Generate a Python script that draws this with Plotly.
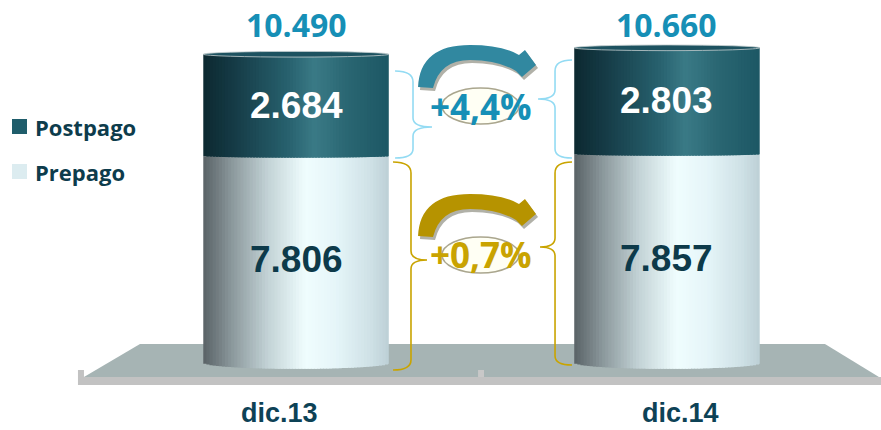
import numpy as np
import plotly.graph_objects as go

W_PX, H_PX = 881, 430

# data
categories = ['dic.13', 'dic.14']
prepago = [7806, 7857]
postpago = [2684, 2803]
totals = [a + b for a, b in zip(prepago, postpago)]
series_names = ['Postpago', 'Prepago']

# the original 3D chart stands its cylinders on a truncated axis
FLOOR = 2350
BAR_W = 0.5
N_SLICES = 60
TOP_D, MID_D, BOTTOM_D = 75, 45, 160
LABEL_X_PX = (279, 680)

POST_STOPS = [(0, '#0d2930'), (0.15, '#143944'), (0.45, '#27606d'),
              (0.6, '#3a7a86'), (0.78, '#2a6672'), (1, '#1d5765')]
PRE_STOPS = [(0, '#596266'), (0.15, '#8a979b'), (0.35, '#c3d3d6'),
             (0.55, '#effdfe'), (0.72, '#e5f5f8'), (0.9, '#cfe1e6'), (1, '#bdd0d6')]


def fmt(v):
    return f'{v:,}'.replace(',', '.')


def pct(new, old):
    return ('+' if new >= old else '') + f'{(new / old - 1) * 100:.1f}'.replace('.', ',') + '%'


def shade(stops, t):
    for (t0, c0), (t1, c1) in zip(stops[:-1], stops[1:]):
        if t <= t1:
            f = (t - t0) / (t1 - t0)
            a = [int(c0[k:k + 2], 16) for k in (1, 3, 5)]
            b = [int(c1[k:k + 2], 16) for k in (1, 3, 5)]
            return 'rgb({},{},{})'.format(*[round(x + (y - x) * f) for x, y in zip(a, b)])
    return stops[-1][1]


def to_paper(path, dx=0, dy=0):
    out = []
    for tok in path.split():
        if ',' in tok:
            x, y = (float(v) for v in tok.split(','))
            out.append(f'{(x + dx) / W_PX:.4f},{1 - (y + dy) / H_PX:.4f}')
        else:
            out.append(tok)
    return ' '.join(out)


def px(x, y):
    return x / W_PX, 1 - y / H_PX


fig = go.Figure()
xs = list(range(len(categories)))

# cylinders: vertical slices with a shading gradient
for seg in ('pre', 'post'):
    stops = PRE_STOPS if seg == 'pre' else POST_STOPS
    for i in range(N_SLICES):
        left = -BAR_W / 2 + i * BAR_W / N_SLICES
        w = min(BAR_W / N_SLICES * 1.8, BAR_W / 2 - left)
        t = (i + 0.5) / N_SLICES
        curve = np.sqrt(max(0.0, 1 - (2 * t - 1) ** 2))
        if seg == 'pre':
            base = [FLOOR - BOTTOM_D * curve for _ in prepago]
            top = [p - MID_D * curve for p in prepago]
        else:
            base = [p - MID_D * curve for p in prepago]
            top = totals
        fig.add_trace(go.Bar(
            x=xs, y=[b - a for a, b in zip(base, top)], base=base,
            offset=left, width=w, marker_color=shade(stops, t),
            marker_line_width=0, showlegend=False, hoverinfo='skip'
        ))

shapes = []
# floor
shapes.append(dict(type='path', xref='paper', yref='paper', layer='below',
                   path=to_paper('M 140,344 L 825,344 L 879,377 L 84,377 Z'),
                   fillcolor='#a6b4b4', line_width=0))
shapes.append(dict(type='path', xref='paper', yref='paper', layer='below',
                   path=to_paper('M 78,370 L 84,370 L 84,377 L 881,377 L 881,385 L 78,385 Z'),
                   fillcolor='#c2c2c2', line_width=0))
shapes.append(dict(type='path', xref='paper', yref='paper', layer='below',
                   path=to_paper('M 478,370 L 484,370 L 484,377 L 478,377 Z'),
                   fillcolor='#c8c8c8', line_width=0))

# cylinder tops
for x, t in zip(xs, totals):
    shapes.append(dict(type='circle', xref='x', yref='y', layer='above',
                       x0=x - BAR_W / 2, x1=x + BAR_W / 2, y0=t - TOP_D, y1=t + TOP_D,
                       fillcolor='#1d5260', line=dict(color='#c4cecf', width=0.8)))

# braces
BLUE_BRACE = '#93dbf3'
GOLD_BRACE = '#c9a400'
braces = [
    ('M 395,71 Q 413,71 413,82 L 413,118 Q 413,127 432,127 Q 413,127 413,136 L 413,149 Q 413,158 395,158', BLUE_BRACE),
    ('M 572,60 Q 555,60 555,71 L 555,90 Q 555,99 538,99 Q 555,99 555,108 L 555,149 Q 555,158 572,158', BLUE_BRACE),
    ('M 393,162 Q 411,162 411,173 L 411,251 Q 411,260 427,260 Q 411,260 411,269 L 411,360 Q 411,370 393,370', GOLD_BRACE),
    ('M 572,162 Q 555,162 555,173 L 555,238 Q 555,247 540,247 Q 555,247 555,256 L 555,356 Q 555,365 572,365', GOLD_BRACE),
]
for path, col in braces:
    shapes.append(dict(type='path', xref='paper', yref='paper', layer='above',
                       path=to_paper(path), line=dict(color=col, width=1.6)))

# curved arrows with text ellipse
ARROW = ('M 418,87 Q 420,45 470,45 Q 502,45 519,55 L 525,50 L 536,65 L 522,77 '
         'L 516,71 Q 498,60 470,60 Q 440,60 433,88 Z')
for dy, col in ((0, '#3188a0'), (149, '#b69300')):
    shapes.append(dict(type='circle', xref='paper', yref='paper', layer='above',
                       x0=px(442, 0)[0], x1=px(519, 0)[0],
                       y0=px(0, 124 + dy)[1], y1=px(0, 88 + dy)[1],
                       fillcolor='#fffff4', line=dict(color='#aaa68e', width=1.5)))
    shapes.append(dict(type='path', xref='paper', yref='paper', layer='above',
                       path=to_paper(ARROW, 2, dy + 3), fillcolor='rgba(125,125,110,0.6)', line_width=0))
    shapes.append(dict(type='path', xref='paper', yref='paper', layer='above',
                       path=to_paper(ARROW, 0, dy), fillcolor=col, line_width=0))

# legend squares
LEGEND_COLORS = ['#1f5d6b', '#dcecf0']
for k, col in enumerate(LEGEND_COLORS):
    y0 = 119 + 45 * k
    shapes.append(dict(type='rect', xref='paper', yref='paper', layer='above',
                       x0=px(12, 0)[0], x1=px(27, 0)[0],
                       y0=px(0, y0 + 15)[1], y1=px(0, y0)[1],
                       fillcolor=col, line_width=0))

ann = []
NUM_FONT = 'Liberation Sans, Arial, sans-serif'
for x, pre, post, tot in zip(xs, prepago, postpago, totals):
    ann.append(dict(x=x, y=(pre + tot) / 2, text=f'<b>{fmt(post)}</b>', showarrow=False,
                    xanchor='center', yanchor='middle',
                    font=dict(family=NUM_FONT, size=37, color='white')))
    ann.append(dict(x=x, y=(FLOOR + pre) / 2, text=f'<b>{fmt(pre)}</b>', showarrow=False,
                    xanchor='center', yanchor='middle',
                    font=dict(family=NUM_FONT, size=37, color='#0d3a4a')))
    ann.append(dict(x=x, y=px(0, 24)[1], yref='paper', text=f'<b>{fmt(tot)}</b>',
                    xanchor='center', yanchor='middle', showarrow=False,
                    font=dict(family='Open Sans', size=32, color='#168fb6')))
    ann.append(dict(x=px(LABEL_X_PX[x], 0)[0], xref='paper', y=0, yref='paper',
                    text=f'<b>{categories[x]}</b>', xanchor='center', yanchor='bottom',
                    showarrow=False, font=dict(family=NUM_FONT, size=27, color='#0d4256')))

# growth between the two periods
ann.append(dict(x=0.5, y=np.mean([(p + t) / 2 for p, t in zip(prepago, totals)]), yshift=-3,
                text=f'<b>{pct(postpago[1], postpago[0])}</b>', showarrow=False,
                xanchor='center', yanchor='middle',
                font=dict(family='Open Sans', size=35, color='#168fb6')))
ann.append(dict(x=0.5, y=np.mean([(FLOOR + p) / 2 for p in prepago]), yshift=4,
                text=f'<b>{pct(prepago[1], prepago[0])}</b>', showarrow=False,
                xanchor='center', yanchor='middle',
                font=dict(family='Open Sans', size=35, color='#c9a300')))

for k, name in enumerate(series_names):
    ann.append(dict(x=px(33, 0)[0], y=px(0, 127 + 45 * k)[1], xref='paper', yref='paper',
                    xanchor='left', yanchor='middle', text=f'<b>{name}</b>', showarrow=False,
                    font=dict(family='Open Sans', size=22, color='#0d3c4c')))

fig.update_layout(
    width=W_PX, height=H_PX,
    margin=dict(l=0, r=0, t=0, b=0),
    barmode='overlay',
    paper_bgcolor='white', plot_bgcolor='white',
    xaxis=dict(visible=False, range=[-0.798, 1.577]),
    yaxis=dict(visible=False, range=[575, 11921]),
    showlegend=False,
    hovermode=False,
    shapes=shapes,
    annotations=ann,
)

# the page body has a default 8px margin; drop it so the figure fills the window
fig.write_html('out.html', config={'displayModeBar': False},
               post_script="document.body.style.margin='0';")
